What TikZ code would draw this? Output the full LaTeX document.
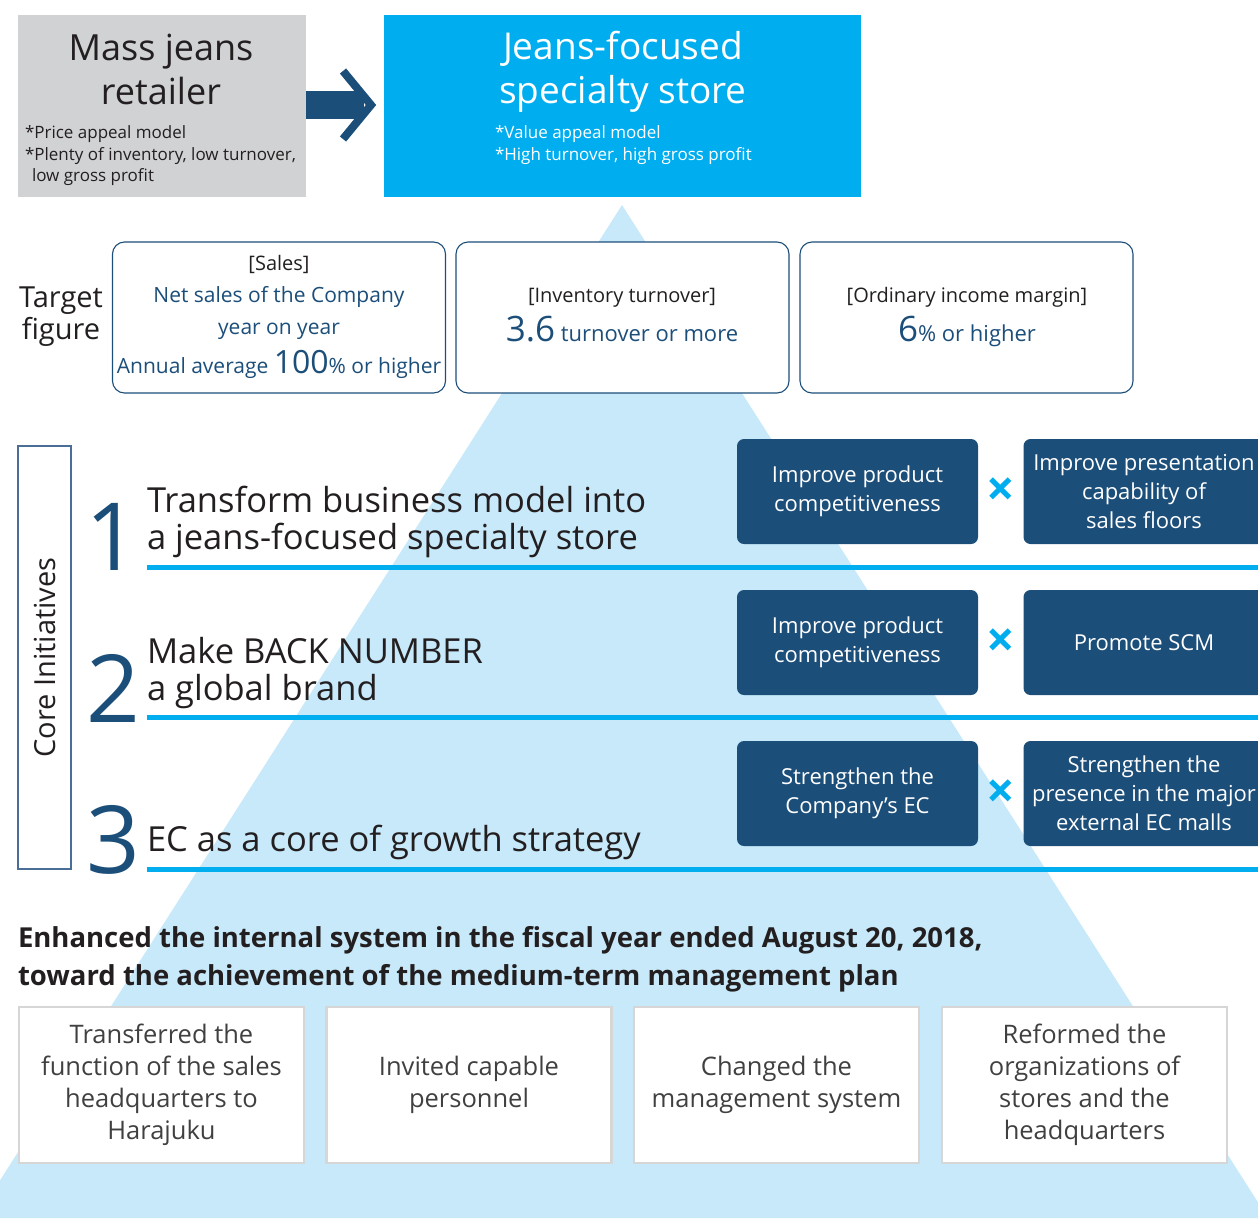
\documentclass[tikz,border=0pt]{standalone}
\usepackage{fontspec}
\setmainfont{Open Sans}
\newcommand{\setfs}[2]{\fontsize{#1}{#2}\selectfont}

\definecolor{navy}{RGB}{28,78,122}
\definecolor{brand}{RGB}{0,174,239}
\definecolor{pyramid}{RGB}{199,233,249}
\definecolor{massgrey}{RGB}{209,210,212}
\definecolor{ink}{RGB}{35,31,32}
\definecolor{body}{RGB}{64,64,64}
\definecolor{edge}{RGB}{214,214,214}
\definecolor{frame}{RGB}{74,110,150}

\begin{document}
\begin{tikzpicture}[
		x=1pt, y=-1pt,
		every node/.style={inner sep=0pt, outer sep=0pt, text=ink},
		goal/.style={draw=navy, line width=1.1, rounded corners=12, fill=white,
			minimum width=333, minimum height=151},
		act/.style={fill=navy, rounded corners=7, minimum width=241, minimum height=105,
			text=white, align=center, font=\setfs{22}{29}},
		done/.style={draw=edge, line width=2.5, fill=white, minimum width=285,
			minimum height=156, align=center, font=\setfs{25.5}{32}, text=body},
		head/.style={anchor=base west, font=\setfs{34.5}{40}},
		num/.style={anchor=base, font=\setfs{94}{94}, text=navy},
		times/.style={font=\bfseries\setfs{50}{50}, text=brand},
		rule/.style={brand, line width=5}
	]

		\useasboundingbox (0,0) rectangle (1258,1218);
		\clip (0,0) rectangle (1258,1218);

		% Pyramid behind everything
		\fill[pyramid] (622,205) -- (1268,1218) -- (-24,1218) -- cycle;

		% From / to
		\node[fill=massgrey, minimum width=288, minimum height=182] (mass) at (162,106) {};
		\node[font=\setfs{36}{44}, align=center] (massT) at (161,69) {Mass jeans\\retailer};
		\node[font=\setfs{17}{21.5}, align=left, anchor=north west] (massS) at (25,126)
			{*Price appeal model\\*Plenty of inventory, low turnover,\\\hspace*{7pt}low gross profit};

		\node[fill=brand, minimum width=477, minimum height=182] (spec) at (622.5,106) {};
		\node[font=\setfs{37}{44}, align=center, text=white] (specT) at (623,72) {Jeans-focused\\specialty store};
		\node[font=\setfs{17}{21.5}, align=left, anchor=north west, text=white] (specS) at (495,126)
			{*Value appeal model\\*High turnover, high gross profit};

		\coordinate (tip) at (371,105);
		\coordinate (shaft) at (364,105);
		\draw[navy, line width=28] (mass.east |- shaft) -- (shaft);
		\draw[navy, line width=8] (343,71) -- (tip) -- (343,139);

		% Target figures
		\node[font=\setfs{29}{32}, align=center] (target) at (61,317) {Target\\figure};

		\node[goal] (sales) at (279,317.5) {};
		\node[anchor=base, font=\setfs{20}{22}] (salesH) at (279,270) {[Sales]};
		\node[anchor=base, font=\setfs{21}{24}, text=navy] (salesA) at (279,302) {Net sales of the Company};
		\node[anchor=base, font=\setfs{21}{24}, text=navy] (salesB) at (279,334) {year on year};
		\node[anchor=base, font=\setfs{21}{24}, text=navy] (salesC) at (279,373)
			{Annual average {\setfs{32}{32}100}\% or higher};

		\node[goal] (turn) at (622.5,317.5) {};
		\node[anchor=base, font=\setfs{20}{22}] (turnH) at (622,302) {[Inventory turnover]};
		\node[anchor=base, font=\setfs{22}{24}, text=navy] (turnA) at (622,341)
			{{\setfs{35}{35}3.6} turnover or more};

		\node[goal] (margin) at (966.5,317.5) {};
		\node[anchor=base, font=\setfs{20}{22}] (marginH) at (967,302) {[Ordinary income margin]};
		\node[anchor=base, font=\setfs{22}{24}, text=navy] (marginA) at (967,341)
			{{\setfs{35}{35}6}\% or higher};

		% Core initiatives
		\node[draw=frame, line width=1.2, fill=white, minimum width=53, minimum height=423] (core) at (44.5,657.5) {};
		\node[rotate=90, font=\setfs{29}{30}] (coreT) at (core.center) {Core Initiatives};

		\foreach \y in {567,717,869}
			\draw[rule] (147,\y) -- (1258,\y);

		\node[num] (n1) at (112,570) {1};
		\node[head] (h1a) at (147,512) {Transform business model into};
		\node[head] (h1b) at (147,549) {a jeans-focused specialty store};
		\node[num] (n2) at (113,722) {2};
		\node[head] (h2a) at (147,663) {Make BACK NUMBER};
		\node[head] (h2b) at (147,700) {a global brand};
		\node[num] (n3) at (113,873) {3};
		\node[head] (h3a) at (147,851) {EC as a core of growth strategy};

		\node[act] (a1) at (857.5,491.5) {Improve product\\competitiveness};
		\node[act] (b1) at (1144,491.5) {Improve presentation\\capability of\\sales floors};
		\node[act] (a2) at (857.5,642.5) {Improve product\\competitiveness};
		\node[act] (b2) at (1144,642.5) {Promote SCM};
		\node[act] (a3) at (857.5,793.5) {Strengthen the\\Company’s EC};
		\node[act] (b3) at (1144,793.5) {Strengthen the\\presence in the major\\external EC malls};
		\node[times] (x1) at (1001,492) {×};
		\node[times] (x2) at (1001,643) {×};
		\node[times] (x3) at (1001,794) {×};

		% Internal system
		\node[anchor=base west, font=\bfseries\setfs{27.5}{36}] (enhA) at (18,947)
			{Enhanced the internal system in the fiscal year ended August 20, 2018,};
		\node[anchor=base west, font=\bfseries\setfs{27.5}{36}] (enhB) at (18,985)
			{toward the achievement of the medium-term management plan};

		\node[done] (d1) at (161.5,1085) {Transferred the\\function of the sales\\headquarters to\\Harajuku};
		\node[done] (d2) at (469,1085) {Invited capable\\personnel};
		\node[done] (d3) at (776.5,1085) {Changed the\\management system};
		\node[done] (d4) at (1084.5,1085) {Reformed the\\organizations of\\stores and the\\headquarters};
	\end{tikzpicture}
\end{document}
